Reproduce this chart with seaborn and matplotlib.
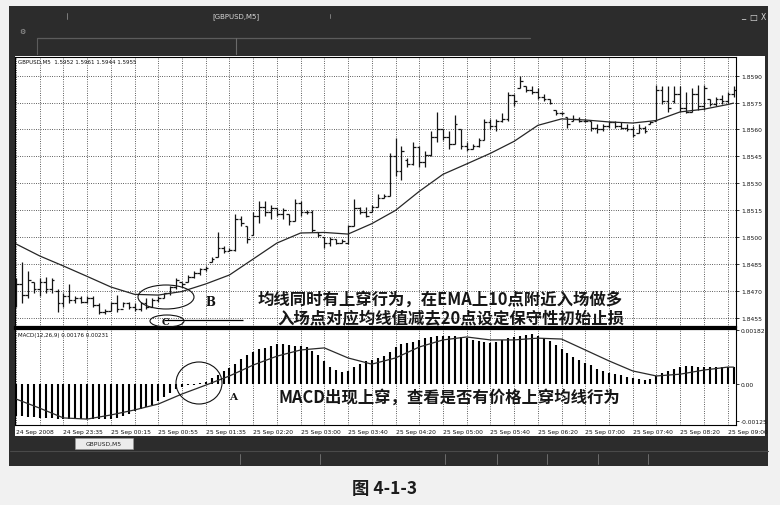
import matplotlib
matplotlib.use("Agg")
import matplotlib.pyplot as plt
import seaborn as sns
import numpy as np
from matplotlib.patches import Ellipse, Rectangle

# ---------------- data ----------------
bar_high = [1.8477, 1.8486, 1.8481, 1.8475, 1.8477, 1.8478, 1.8477, 1.8471, 1.8469, 1.8474,
            1.8467, 1.8467, 1.8467, 1.8467, 1.8463, 1.8460, 1.8464, 1.8468, 1.8464, 1.8464,
            1.8463, 1.8464, 1.8466, 1.8466, 1.8467, 1.8469, 1.8473, 1.8477, 1.8475, 1.8479,
            1.8481, 1.8483, 1.8484, 1.8489, 1.8503, 1.8495, 1.8494, 1.8513, 1.8512, 1.8506,
            1.8514, 1.8520, 1.8520, 1.8518, 1.8516, 1.8516, 1.8513, 1.8521, 1.8520, 1.8515,
            1.8515, 1.8503, 1.8500, 1.8500, 1.8499, 1.8499, 1.8507, 1.8521, 1.8517, 1.8517,
            1.8518, 1.8524, 1.8524, 1.8547, 1.8555, 1.8551, 1.8544, 1.8553, 1.8551, 1.8548,
            1.8559, 1.8570, 1.8560, 1.8559, 1.8568, 1.8560, 1.8553, 1.8552, 1.8555, 1.8566,
            1.8566, 1.8566, 1.8569, 1.8581, 1.8580, 1.8590, 1.8584, 1.8584, 1.8583, 1.8580,
            1.8577, 1.8571, 1.8570, 1.8567, 1.8568, 1.8567, 1.8566, 1.8565, 1.8563, 1.8563,
            1.8565, 1.8565, 1.8564, 1.8563, 1.8562, 1.8563, 1.8562, 1.8565, 1.8585, 1.8584,
            1.8584, 1.8584, 1.8584, 1.8581, 1.8583, 1.8585, 1.8585, 1.8577, 1.8578, 1.8579,
            1.8581, 1.8584]
bar_low = [1.8461, 1.8463, 1.8466, 1.8469, 1.8467, 1.8469, 1.8469, 1.8458, 1.8461, 1.8463,
           1.8463, 1.8463, 1.8463, 1.8461, 1.8457, 1.8457, 1.8459, 1.8458, 1.8461, 1.8460,
           1.8459, 1.8459, 1.8460, 1.8461, 1.8464, 1.8466, 1.8468, 1.8471, 1.8472, 1.8475,
           1.8477, 1.8479, 1.8481, 1.8486, 1.8489, 1.8491, 1.8492, 1.8492, 1.8506, 1.8497,
           1.8501, 1.8508, 1.8512, 1.8510, 1.8512, 1.8510, 1.8507, 1.8509, 1.8512, 1.8513,
           1.8503, 1.8500, 1.8494, 1.8495, 1.8496, 1.8497, 1.8496, 1.8506, 1.8513, 1.8511,
           1.8514, 1.8517, 1.8522, 1.8523, 1.8534, 1.8532, 1.8539, 1.8540, 1.8539, 1.8539,
           1.8545, 1.8553, 1.8554, 1.8549, 1.8552, 1.8549, 1.8548, 1.8549, 1.8550, 1.8554,
           1.8560, 1.8559, 1.8564, 1.8565, 1.8573, 1.8583, 1.8581, 1.8580, 1.8577, 1.8576,
           1.8574, 1.8568, 1.8568, 1.8561, 1.8565, 1.8564, 1.8564, 1.8559, 1.8558, 1.8559,
           1.8561, 1.8561, 1.8560, 1.8559, 1.8556, 1.8558, 1.8558, 1.8563, 1.8565, 1.8574,
           1.8570, 1.8575, 1.8570, 1.8569, 1.8570, 1.8571, 1.8571, 1.8573, 1.8573, 1.8574,
           1.8575, 1.8578]
bar_open = [1.8470, 1.8474, 1.8468, 1.8475, 1.8471, 1.8475, 1.8471, 1.8470, 1.8463, 1.8467,
            1.8465, 1.8466, 1.8464, 1.8466, 1.8462, 1.8458, 1.8459, 1.8463, 1.8460, 1.8463,
            1.8461, 1.8460, 1.8463, 1.8461, 1.8465, 1.8466, 1.8469, 1.8472, 1.8475, 1.8475,
            1.8478, 1.8480, 1.8482, 1.8486, 1.8489, 1.8494, 1.8492, 1.8493, 1.8510, 1.8506,
            1.8501, 1.8512, 1.8517, 1.8514, 1.8516, 1.8513, 1.8513, 1.8509, 1.8519, 1.8514,
            1.8514, 1.8503, 1.8500, 1.8497, 1.8499, 1.8497, 1.8497, 1.8506, 1.8516, 1.8514,
            1.8514, 1.8517, 1.8522, 1.8523, 1.8545, 1.8537, 1.8543, 1.8541, 1.8550, 1.8542,
            1.8546, 1.8556, 1.8560, 1.8556, 1.8552, 1.8560, 1.8551, 1.8549, 1.8551, 1.8554,
            1.8564, 1.8562, 1.8565, 1.8566, 1.8579, 1.8583, 1.8584, 1.8582, 1.8581, 1.8578,
            1.8577, 1.8571, 1.8569, 1.8567, 1.8565, 1.8566, 1.8565, 1.8565, 1.8561, 1.8560,
            1.8562, 1.8564, 1.8562, 1.8561, 1.8560, 1.8558, 1.8561, 1.8563, 1.8565, 1.8582,
            1.8576, 1.8576, 1.8580, 1.8572, 1.8570, 1.8580, 1.8573, 1.8577, 1.8574, 1.8577,
            1.8576, 1.8580]
bar_close = [1.8474, 1.8468, 1.8476, 1.8471, 1.8475, 1.8471, 1.8476, 1.8463, 1.8467, 1.8465,
             1.8466, 1.8464, 1.8466, 1.8462, 1.8458, 1.8459, 1.8463, 1.8460, 1.8463, 1.8461,
             1.8460, 1.8463, 1.8461, 1.8465, 1.8466, 1.8469, 1.8472, 1.8476, 1.8474, 1.8478,
             1.8480, 1.8482, 1.8483, 1.8488, 1.8494, 1.8492, 1.8493, 1.8510, 1.8508, 1.8499,
             1.8512, 1.8517, 1.8514, 1.8516, 1.8513, 1.8515, 1.8509, 1.8519, 1.8514, 1.8514,
             1.8504, 1.8501, 1.8497, 1.8499, 1.8497, 1.8498, 1.8506, 1.8516, 1.8514, 1.8512,
             1.8517, 1.8522, 1.8523, 1.8545, 1.8537, 1.8548, 1.8541, 1.8550, 1.8542, 1.8546,
             1.8556, 1.8560, 1.8556, 1.8552, 1.8563, 1.8551, 1.8549, 1.8551, 1.8554, 1.8564,
             1.8562, 1.8565, 1.8566, 1.8579, 1.8576, 1.8587, 1.8582, 1.8581, 1.8578, 1.8577,
             1.8575, 1.8569, 1.8569, 1.8563, 1.8566, 1.8565, 1.8565, 1.8561, 1.8560, 1.8562,
             1.8564, 1.8562, 1.8561, 1.8560, 1.8557, 1.8561, 1.8559, 1.8564, 1.8582, 1.8576,
             1.8572, 1.8580, 1.8572, 1.8570, 1.8580, 1.8573, 1.8583, 1.8574, 1.8577, 1.8576,
             1.8580, 1.8582]

ema_idx = [0, 4, 8, 12, 16, 20, 24, 28, 32, 36, 40, 44, 48, 52, 56, 60,
           64, 68, 72, 76, 80, 84, 88, 92, 96, 100, 104, 108, 112, 116, 120, 121]
ema_val = [1.84962, 1.84895, 1.84839, 1.84781, 1.84722, 1.84681, 1.84677, 1.84697,
           1.84739, 1.84789, 1.84878, 1.84967, 1.85023, 1.85026, 1.85017, 1.85075,
           1.85149, 1.85255, 1.85350, 1.85408, 1.85467, 1.85534, 1.85623, 1.85659,
           1.85653, 1.85642, 1.85636, 1.85650, 1.85698, 1.85713, 1.85739, 1.85747]

macd_hist = [-0.00110, -0.00110, -0.00113, -0.00113, -0.00116, -0.00116, -0.00116, -0.00120,
             -0.00120, -0.00120, -0.00120, -0.00120, -0.00120, -0.00120, -0.00120, -0.00120,
             -0.00120, -0.00116, -0.00110, -0.00103, -0.00093, -0.00086, -0.00079, -0.00072,
             -0.00059, -0.00045, -0.00032, -0.00018, -0.00012, -0.00006, -0.00003, 0.00002,
             0.00005, 0.00019, 0.00029, 0.00043, 0.00053, 0.00066, 0.00083, 0.00097,
             0.00107, 0.00117, 0.00121, 0.00127, 0.00134, 0.00134, 0.00131, 0.00127,
             0.00127, 0.00124, 0.00110, 0.00097, 0.00076, 0.00056, 0.00046, 0.00039,
             0.00043, 0.00056, 0.00066, 0.00076, 0.00080, 0.00086, 0.00093, 0.00107,
             0.00124, 0.00134, 0.00137, 0.00141, 0.00148, 0.00154, 0.00158, 0.00161,
             0.00161, 0.00161, 0.00161, 0.00158, 0.00154, 0.00148, 0.00144, 0.00141,
             0.00137, 0.00141, 0.00148, 0.00154, 0.00158, 0.00161, 0.00165, 0.00168,
             0.00161, 0.00154, 0.00144, 0.00131, 0.00117, 0.00104, 0.00090, 0.00080,
             0.00070, 0.00063, 0.00049, 0.00043, 0.00036, 0.00032, 0.00029, 0.00022,
             0.00019, 0.00016, 0.00012, 0.00016, 0.00026, 0.00036, 0.00043, 0.00049,
             0.00056, 0.00059, 0.00059, 0.00056, 0.00056, 0.00056, 0.00056, 0.00056,
             0.00056, 0.00056]

signal_idx = ema_idx
signal_val = [-0.00052, -0.00083, -0.00116, -0.00120, -0.00106, -0.00089, -0.00069, -0.00035,
              -0.00005, 0.00026, 0.00063, 0.00093, 0.00114, 0.00121, 0.00087, 0.00066,
              0.00087, 0.00124, 0.00148, 0.00158, 0.00148, 0.00148, 0.00154, 0.00151,
              0.00114, 0.00077, 0.00043, 0.00026, 0.00032, 0.00046, 0.00056, 0.00056]

date_labels = ["24 Sep 2008", "24 Sep 23:35", "25 Sep 00:15", "25 Sep 00:55",
               "25 Sep 01:35", "25 Sep 02:20", "25 Sep 03:00", "25 Sep 03:40",
               "25 Sep 04:20", "25 Sep 05:00", "25 Sep 05:40", "25 Sep 06:20",
               "25 Sep 07:00", "25 Sep 07:40", "25 Sep 08:20", "25 Sep 09:00"]
price_ticks = [1.8590, 1.8575, 1.8560, 1.8545, 1.8530, 1.8515, 1.8500, 1.8485, 1.8470, 1.8455]
macd_ticks = [0.00182, 0.0, -0.00125]
macd_tick_labels = ["0.00182", "0.00", "-0.00125"]
stop_level = 1.8454
stop_from, stop_to = 25, 38.2

note1 = "均线同时有上穿行为，在EMA上10点附近入场做多"
note2 = "入场点对应均线值减去20点设定保守性初始止损"
note3 = "MACD出现上穿，查看是否有价格上穿均线行为"
caption = "图 4-1-3"

# ---------------- figure ----------------
sns.set_theme(style="white")
plt.rcParams['font.family'] = ['DejaVu Sans']
CJK = ['Noto Sans CJK SC', 'DejaVu Sans']

W, H = 780, 506
fig = plt.figure(figsize=(W / 100, H / 100), dpi=100)
fig.patch.set_facecolor('#f1f1f1')


def pxax(x0, y0, x1, y1, z):
    return fig.add_axes([x0 / W, 1 - y1 / H, (x1 - x0) / W, (y1 - y0) / H], zorder=z)


# background window frame
bg = pxax(0, 0, W, H, 0)
bg.set_xlim(0, W)
bg.set_ylim(H, 0)
bg.axis('off')
bg.add_patch(Rectangle((9, 7), 759, 460, facecolor='#2c2c2c', edgecolor='none'))
bg.add_patch(Rectangle((15, 57), 750, 380, facecolor='white', edgecolor='none'))
bg.plot([37, 530], [39, 39], color='#5c5c5c', lw=0.9)
bg.plot([37, 37], [39, 55], color='#5c5c5c', lw=0.8)
bg.plot([236, 236], [39, 55], color='#6a6a6a', lw=0.8)
bg.plot([67, 67], [14, 20], color='#8a8a8a', lw=0.6)
bg.plot([330, 330], [15, 19], color='#8a8a8a', lw=0.6)
bg.plot([10, 768], [452, 452], color='#4a4a4a', lw=0.8)
for xx in [240, 320, 445, 497, 547, 598, 648]:
    bg.plot([xx, xx], [455, 465], color='#777777', lw=0.6)
bg.add_patch(Rectangle((75, 439), 58, 11, facecolor='#ececec', edgecolor='#999999', lw=0.4))
bg.text(104, 444.5, "GBPUSD,M5", fontsize=4.3, ha='center', va='center', color='#222222')
bg.text(236, 17, "[GBPUSD,M5]", fontsize=5, ha='center', va='center', color='#d8d8d8')
bg.text(743, 16, "_", fontsize=6, ha='center', va='center', color='#dddddd')
bg.text(753, 17, "\u25a1", fontsize=6, ha='center', va='center', color='#dddddd')
bg.text(763, 17, "X", fontsize=5.5, ha='center', va='center', color='#dddddd')
bg.text(22, 32, "\u2699", fontsize=5, ha='center', va='center', color='#aaaaaa')

idx = np.arange(len(bar_high))
XLIM = (-0.17, 121.42)
grid_x = list(range(0, 121, 4))
dot = (0, (1, 2))
ink = '#141414'

# ---------------- price panel ----------------
ax_p = pxax(15, 58, 736, 328, 2)
ax_p.set_facecolor('white')
ax_p.set_axisbelow(True)
ax_p.vlines(idx, bar_low, bar_high, color=ink, lw=0.9)
ax_p.hlines(bar_open, idx - 0.45, idx, color=ink, lw=0.9)
ax_p.hlines(bar_close, idx, idx + 0.45, color=ink, lw=0.9)
sns.lineplot(x=ema_idx, y=ema_val, ax=ax_p, color='#262626', lw=0.9)
ax_p.hlines([stop_level], stop_from, stop_to, color='black', lw=0.9)
ax_p.set_xlim(*XLIM)
ax_p.set_ylim(1.84499, 1.86004)
ax_p.set_xticks(grid_x)
ax_p.set_xticklabels([])
ax_p.yaxis.tick_right()
ax_p.set_yticks(price_ticks)
ax_p.set_yticklabels([f"{v:.4f}" for v in price_ticks])
ax_p.tick_params(axis='x', length=0)
ax_p.tick_params(axis='y', length=2, width=0.6, pad=1.5, labelsize=4.3, colors='#111111')
ax_p.grid(True, color='black', linestyle=dot, lw=0.55)
ax_p.set_xlabel('')
ax_p.set_ylabel('')
for s in ax_p.spines.values():
    s.set_color('black')
    s.set_linewidth(0.8)
ax_p.spines['bottom'].set_linewidth(1.6)

# ---------------- MACD panel ----------------
ax_m = pxax(15, 330, 736, 426, 2)
ax_m.set_facecolor('white')
ax_m.set_axisbelow(True)
ax_m.vlines(idx, 0, macd_hist, color='black', lw=1.5)
sns.lineplot(x=signal_idx, y=signal_val, ax=ax_m, color='#2a2a2a', lw=0.9)
ax_m.set_xlim(*XLIM)
ax_m.set_ylim(-0.00140, 0.00185)
ax_m.set_xticks(grid_x)
xt = []
for k in range(len(grid_x)):
    xt.append(date_labels[k // 2] if k % 2 == 0 else '')
ax_m.set_xticklabels(xt, ha='left')
ax_m.tick_params(axis='x', length=2, width=0.6, pad=1.2, labelsize=4.3, colors='#111111')
ax_m.yaxis.tick_right()
ax_m.set_yticks(macd_ticks)
ax_m.set_yticklabels(macd_tick_labels)
ax_m.tick_params(axis='y', length=2, width=0.6, pad=1.5, labelsize=4.3, colors='#111111')
ax_m.grid(True, axis='x', color='black', linestyle=dot, lw=0.55)
ax_m.set_xlabel('')
ax_m.set_ylabel('')
for s in ax_m.spines.values():
    s.set_color('black')
    s.set_linewidth(0.8)
ax_m.spines['top'].set_linewidth(1.6)

# ---------------- overlay annotations ----------------
fg = pxax(0, 0, W, H, 5)
fg.set_xlim(0, W)
fg.set_ylim(H, 0)
fg.axis('off')
fg.patch.set_alpha(0)

fg.text(18, 62.5, "GBPUSD,M5  1.5952 1.5961 1.5944 1.5955", fontsize=4.0,
        ha='left', va='center', color='#111111')
fg.text(18, 336, "MACD(12,26,9) 0.00176 0.00231", fontsize=4.0,
        ha='left', va='center', color='#111111')

fg.add_patch(Ellipse((166, 298), 56, 24, fill=False, edgecolor='#111111', lw=0.8))
fg.add_patch(Ellipse((167, 322), 34, 12, fill=False, edgecolor='#111111', lw=0.8))
fg.add_patch(Ellipse((199, 384), 46, 42, fill=False, edgecolor='#111111', lw=0.8))
fg.text(210, 303, "B", fontsize=8.5, fontweight='bold', family='DejaVu Serif',
        ha='center', va='center', color='#111111')
fg.text(165, 322.5, "C", fontsize=7, fontweight='bold', family='DejaVu Serif',
        ha='center', va='center', color='#111111')
fg.text(233, 398, "A", fontsize=7.5, fontweight='bold', family='DejaVu Serif',
        ha='center', va='center', color='#111111')

fg.text(258, 300, note1, fontsize=11.8, fontweight='bold', family=CJK,
        ha='left', va='center', color='#161616')
fg.text(277, 318, note2, fontsize=11.8, fontweight='bold', family=CJK,
        ha='left', va='center', color='#161616')
fg.text(278, 398, note3, fontsize=11.8, fontweight='bold', family=CJK,
        ha='left', va='center', color='#161616')

fg.text(385, 489, caption, fontsize=12.5, fontweight='bold', family=CJK,
        ha='center', va='center', color='#1c1c1c')

fig.savefig('out.png', dpi=100, facecolor=fig.get_facecolor())
